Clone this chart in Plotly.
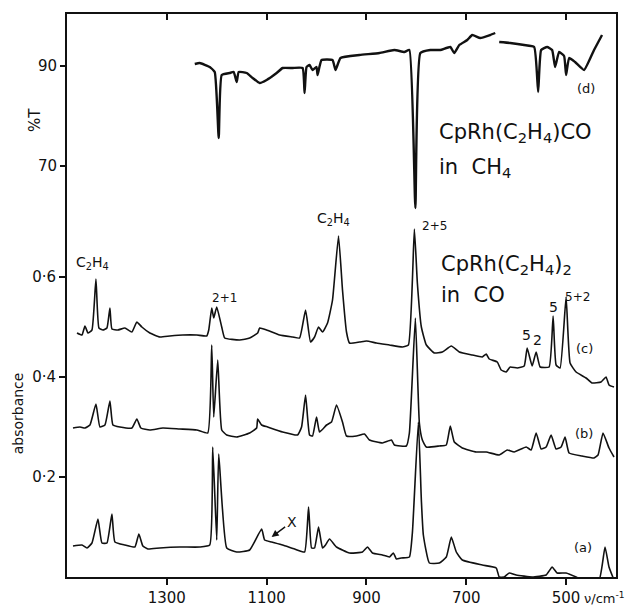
import plotly.graph_objects as go

# ---- spectrum (c): CpRh(C2H4)2 in CO, absorbance
wn_c = [1480, 1470, 1464, 1458, 1450, 1442, 1436, 1428, 1420, 1414, 1410, 1398, 1384, 1370, 1360, 1350,
        1334, 1314, 1294, 1268, 1240, 1220, 1216, 1210, 1206, 1200, 1190, 1184, 1154, 1134, 1118, 1114,
        1100, 1074, 1048, 1034, 1022, 1012, 1004, 996, 988, 978, 968, 956, 948, 940, 934, 914, 900, 880,
        854, 828, 816, 804, 798, 790, 780, 764, 748, 730, 714, 688, 668, 660, 654, 638, 630, 620, 612,
        598, 584, 578, 568, 560, 552, 534, 526, 520, 512, 500, 492, 480, 460, 448, 430, 420, 414, 404]
ab_c = [0.488, 0.484, 0.502, 0.488, 0.494, 0.596, 0.498, 0.494, 0.498, 0.538, 0.496, 0.494, 0.498, 0.490,
        0.510, 0.500, 0.488, 0.480, 0.482, 0.484, 0.484, 0.482, 0.494, 0.538, 0.518, 0.540, 0.500, 0.478,
        0.474, 0.478, 0.488, 0.498, 0.494, 0.484, 0.480, 0.478, 0.534, 0.470, 0.480, 0.500, 0.490, 0.508,
        0.554, 0.682, 0.574, 0.490, 0.468, 0.470, 0.472, 0.468, 0.464, 0.460, 0.464, 0.696, 0.588, 0.500,
        0.464, 0.448, 0.450, 0.462, 0.450, 0.444, 0.440, 0.446, 0.436, 0.430, 0.414, 0.410, 0.420, 0.418,
        0.422, 0.458, 0.422, 0.450, 0.420, 0.420, 0.522, 0.424, 0.418, 0.560, 0.428, 0.410, 0.398, 0.388,
        0.390, 0.400, 0.384, 0.380]

# ---- spectrum (b)
wn_b = [1488, 1474, 1464, 1454, 1442, 1434, 1424, 1414, 1408, 1394, 1370, 1360, 1352, 1334, 1308, 1274,
        1240, 1218, 1210, 1206, 1198, 1190, 1180, 1160, 1134, 1120, 1118, 1110, 1098, 1068, 1038, 1030,
        1022, 1014, 1008, 1000, 994, 980, 970, 960, 948, 940, 920, 904, 894, 868, 850, 844, 820, 814,
        802, 794, 788, 780, 754, 740, 732, 724, 708, 680, 660, 634, 618, 604, 580, 570, 560, 550, 540,
        530, 520, 510, 502, 494, 468, 444, 436, 426, 414, 404]
ab_b = [0.298, 0.300, 0.298, 0.304, 0.346, 0.300, 0.304, 0.352, 0.304, 0.300, 0.298, 0.316, 0.298, 0.294,
        0.298, 0.296, 0.294, 0.288, 0.464, 0.320, 0.434, 0.294, 0.284, 0.280, 0.288, 0.298, 0.316, 0.304,
        0.300, 0.290, 0.284, 0.300, 0.364, 0.284, 0.282, 0.320, 0.290, 0.304, 0.310, 0.344, 0.310, 0.282,
        0.282, 0.286, 0.274, 0.268, 0.274, 0.264, 0.262, 0.288, 0.518, 0.308, 0.274, 0.260, 0.262, 0.264,
        0.302, 0.270, 0.258, 0.250, 0.250, 0.244, 0.254, 0.250, 0.260, 0.254, 0.288, 0.256, 0.260, 0.284,
        0.256, 0.260, 0.280, 0.248, 0.242, 0.238, 0.244, 0.288, 0.258, 0.240]

# ---- spectrum (a)
wn_a = [1488, 1470, 1460, 1450, 1438, 1430, 1420, 1410, 1404, 1384, 1364, 1356, 1348, 1338, 1314, 1274,
        1234, 1214, 1208, 1200, 1196, 1180, 1160, 1134, 1110, 1104, 1090, 1068, 1044, 1024, 1016, 1010,
        1004, 996, 988, 982, 974, 960, 934, 908, 898, 888, 868, 854, 846, 840, 830, 814, 808, 796, 790,
        786, 774, 754, 740, 730, 720, 708, 668, 640, 634, 624, 614, 600, 568, 540, 528, 518, 500, 480,
        468, 434, 422, 414, 404]
ab_a = [0.062, 0.064, 0.058, 0.068, 0.116, 0.068, 0.068, 0.126, 0.070, 0.064, 0.060, 0.086, 0.062, 0.056,
        0.058, 0.060, 0.060, 0.064, 0.260, 0.074, 0.246, 0.058, 0.050, 0.054, 0.096, 0.074, 0.070, 0.064,
        0.056, 0.050, 0.140, 0.058, 0.058, 0.100, 0.058, 0.064, 0.076, 0.060, 0.048, 0.050, 0.060, 0.048,
        0.044, 0.040, 0.048, 0.036, 0.038, 0.040, 0.088, 0.310, 0.154, 0.084, 0.028, 0.028, 0.040, 0.080,
        0.050, 0.034, 0.024, 0.018, 0.000, 0.000, 0.008, 0.004, 0.000, 0.004, 0.020, 0.008, 0.008, 0.000,
        -0.006, -0.006, 0.060, 0.020, -0.006]

# ---- spectrum (d): CpRh(C2H4)CO in CH4, %T (None = break in the trace)
wn_d = [1244, 1234, 1214, 1204, 1196, 1190, 1174, 1166, 1160, 1156, 1140, 1128, 1114, 1100, 1080, 1068,
        1048, 1028, 1024, 1020, 1014, 1008, 1000, 998, 990, 968, 962, 952, 914, 874, 844, 824, 814, 802,
        792, 772, 752, 732, 724, 714, 698, 688, 672, 652, 642, None, 634, 612, 584, 564, 556, 550, 538,
        528, 522, 514, 504, 500, 494, 482, 464, 444, 428]
pt_d = [90.4, 90.6, 89.8, 88.8, 75.6, 88.2, 88.6, 88.8, 86.8, 88.8, 88.6, 87.6, 86.6, 87.2, 88.6, 89.6,
        89.6, 89.6, 84.6, 89.8, 90.2, 89.2, 89.8, 88.2, 91.2, 91.2, 89.2, 91.6, 92.2, 92.6, 93.2, 92.8,
        93.2, 61.6, 92.6, 93.2, 93.2, 93.8, 92.6, 94.2, 95.2, 96.2, 95.6, 96.2, 96.6, None, 94.8, 94.6,
        94.2, 93.8, 84.8, 93.2, 93.8, 93.2, 89.8, 92.8, 92.0, 88.2, 91.6, 90.8, 89.2, 93.2, 96.2]

x_ticks = [1300, 1100, 900, 700, 500]
x_ticktext = ["1300", "1100", "900", "700", "500"]
abs_ticks = [0.2, 0.4, 0.6]
abs_ticktext = ["0·2", "0·4", "0·6"]
pt_ticks = [70, 90]
pt_ticktext = ["70", "90"]

FONT = "DejaVu Sans"
INK = "#111111"

fig = go.Figure()
for wn, ab in [(wn_c, ab_c), (wn_b, ab_b), (wn_a, ab_a)]:
    fig.add_trace(go.Scatter(x=wn, y=ab, mode="lines",
                             line=dict(color=INK, width=1.6, shape="spline", smoothing=0.4),
                             showlegend=False, hoverinfo="skip"))
fig.add_trace(go.Scatter(x=wn_d, y=pt_d, mode="lines", xaxis="x2", yaxis="y2",
                         line=dict(color=INK, width=2.4, shape="spline", smoothing=0.4),
                         connectgaps=False, showlegend=False, hoverinfo="skip"))

ann = []
def lab(x, y, t, size=13, xanchor="center", xref="x", yref="y", angle=0):
    ann.append(dict(x=x, y=y, xref=xref, yref=yref, text=t, showarrow=False, xanchor=xanchor,
                    yanchor="middle", textangle=angle, font=dict(family=FONT, size=size, color=INK)))

lab(1448, 0.628, "C<sub>2</sub>H<sub>4</sub>", 14)
lab(1184, 0.558, "2+1", 12)
lab(966, 0.716, "C<sub>2</sub>H<sub>4</sub>", 14)
lab(792, 0.702, "2+5", 12, xanchor="left")
lab(758, 0.888, "CpRh(C<sub>2</sub>H<sub>4</sub>)CO", 21, xanchor="left")
lab(758, 0.818, "in  CH<sub>4</sub>", 21, xanchor="left")
lab(754, 0.624, "CpRh(C<sub>2</sub>H<sub>4</sub>)<sub>2</sub>", 21, xanchor="left")
lab(754, 0.564, "in  CO", 21, xanchor="left")
lab(460, 0.978, "(d)", 13)
lab(464, 0.458, "(c)", 13)
lab(464, 0.288, "(b)", 13)
lab(466, 0.060, "(a)", 13)
lab(580, 0.484, "5", 14)
lab(558, 0.474, "2", 14)
lab(526, 0.540, "5", 14)
lab(478, 0.560, "5+2", 12)
ann.append(dict(x=1090, y=0.080, xref="x", yref="y", text="X", showarrow=True, arrowhead=2,
                arrowsize=1, arrowwidth=1.4, arrowcolor=INK, ax=20, ay=-15,
                font=dict(family=FONT, size=14, color=INK)))
lab(-0.058, 0.812, "%T", 15, xref="paper", yref="paper", angle=-90)
lab(-0.089, 0.291, "absorbance", 14, xref="paper", yref="paper", angle=-90)
ann.append(dict(x=0.938, y=-0.037, xref="paper", yref="paper", text="ν/cm<sup>-1</sup>",
                showarrow=False, xanchor="left", yanchor="middle",
                font=dict(family=FONT, size=13, color=INK)))

fig.update_layout(
    width=630, height=599,
    margin=dict(l=59, r=22, t=6, b=30, autoexpand=False),
    paper_bgcolor="white", plot_bgcolor="white",
    annotations=ann,
    xaxis=dict(range=[1500, 400], tickvals=x_ticks, ticktext=x_ticktext, ticks="outside",
               ticklen=6, tickwidth=1.5, tickcolor=INK, showline=True, linewidth=2, linecolor=INK,
               mirror=True, showgrid=False, zeroline=False,
               tickfont=dict(family=FONT, size=15, color=INK)),
    yaxis=dict(range=[0, 1.126], tickvals=abs_ticks, ticktext=abs_ticktext, ticks="outside",
               ticklen=6, tickwidth=1.5, tickcolor=INK, showline=True, linewidth=2, linecolor=INK,
               mirror=True, showgrid=False, zeroline=False,
               tickfont=dict(family=FONT, size=15, color=INK)),
    xaxis2=dict(range=[1500, 400], overlaying="x", side="top", anchor="y2", tickvals=x_ticks,
                showticklabels=False, ticks="inside", ticklen=6, tickwidth=1.5, tickcolor=INK,
                showline=False, showgrid=False, zeroline=False),
    yaxis2=dict(range=[-12.2, 100.4], overlaying="y", side="left", anchor="x2", tickvals=pt_ticks,
                ticktext=pt_ticktext, ticks="outside", ticklen=6, tickwidth=1.5, tickcolor=INK,
                showline=False, showgrid=False, zeroline=False,
                tickfont=dict(family=FONT, size=15, color=INK)),
)

fig.write_html("out.html")
